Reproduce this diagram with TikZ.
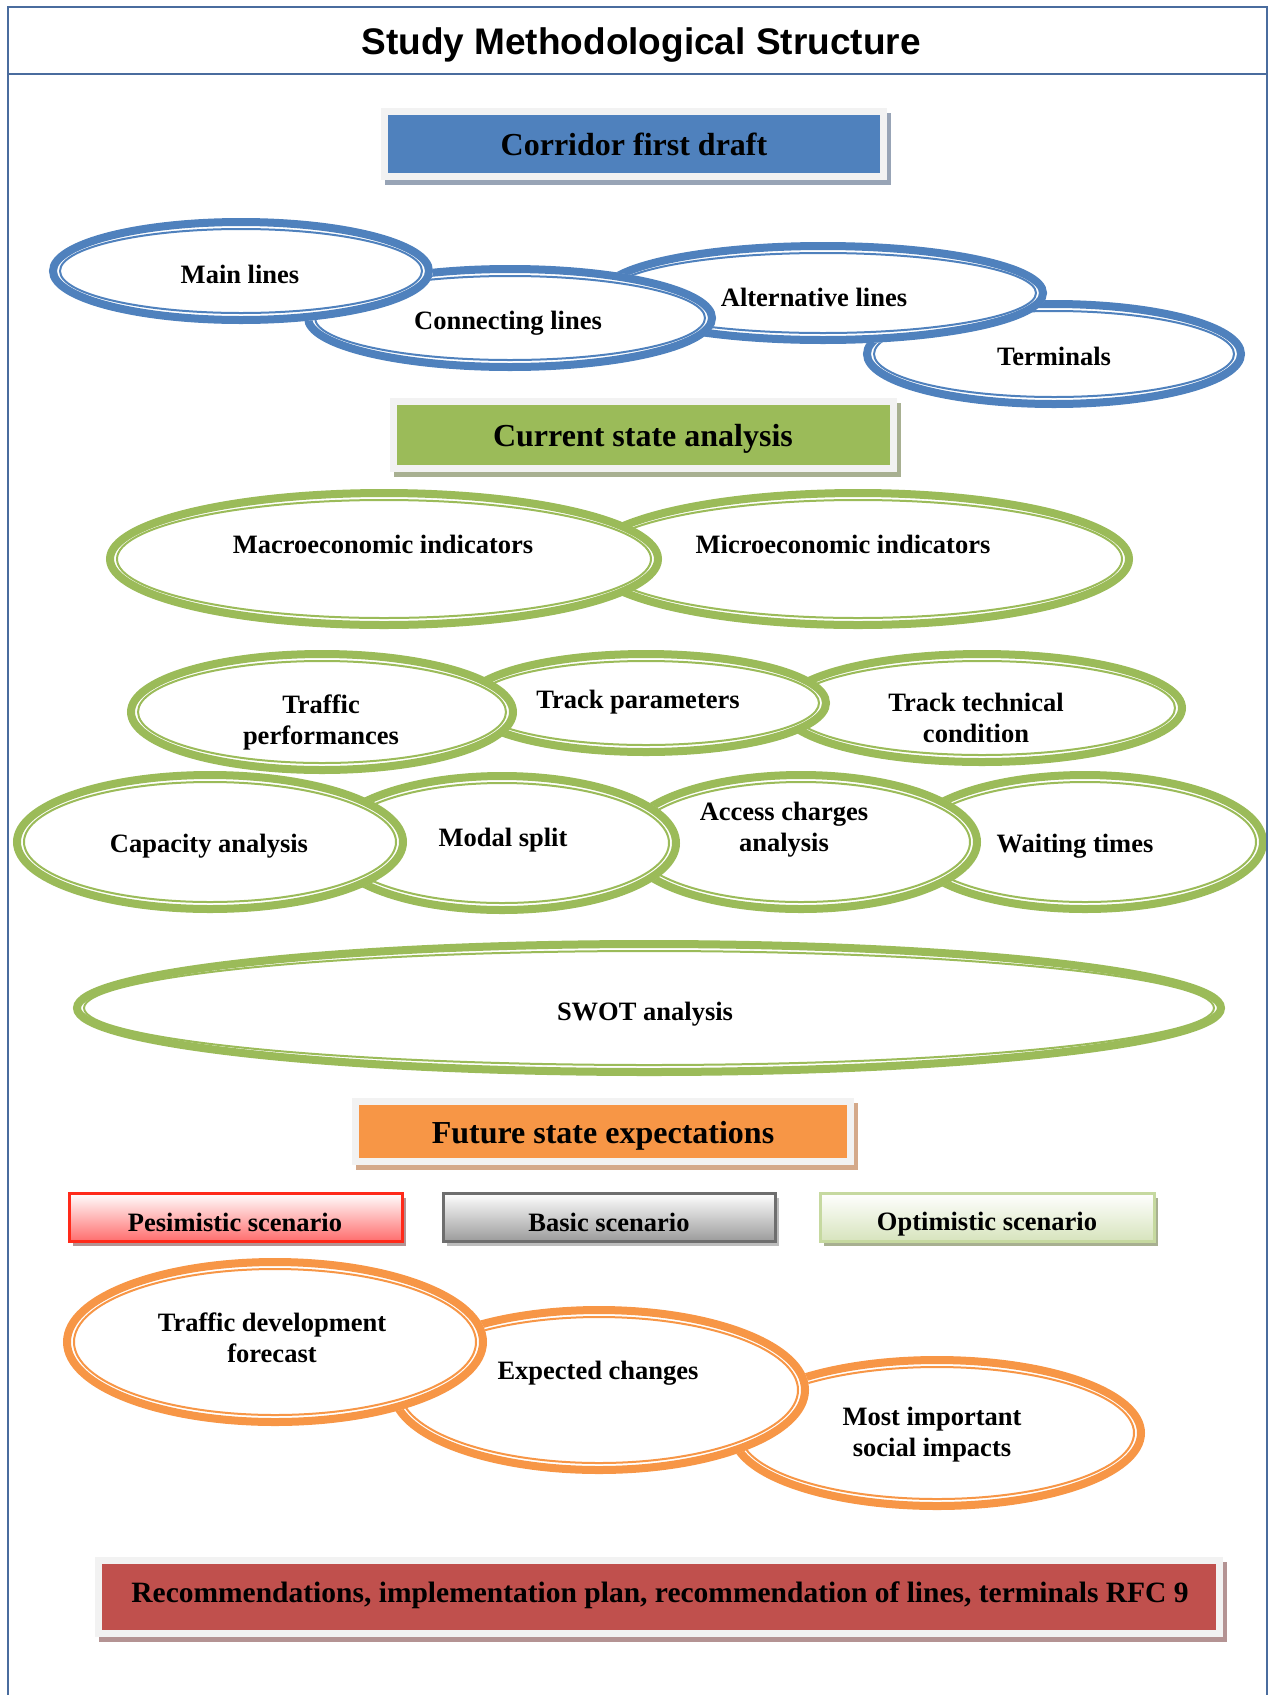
\documentclass[tikz,border=0pt]{standalone}
\usepackage{fontspec}
\setmainfont{Liberation Serif}
\newfontfamily\titlefont{Liberation Sans}

\definecolor{framecol}{HTML}{4A6C9E}
\definecolor{framegray}{HTML}{F2F2F2}
\definecolor{ringblue}{HTML}{4F81BD}
\definecolor{ringgreen}{HTML}{9BBB59}
\definecolor{ringorange}{HTML}{F79646}
\definecolor{boxred}{HTML}{C0504D}
\definecolor{shblue}{HTML}{98A4B6}
\definecolor{shgreen}{HTML}{A8B091}
\definecolor{shorange}{HTML}{D4A98A}
\definecolor{shred}{HTML}{B49393}
\definecolor{pesline}{HTML}{FF2A1A}
\definecolor{pesfill}{HTML}{FF6E6E}
\definecolor{basline}{HTML}{6E6E6E}
\definecolor{basfill}{HTML}{9C9C9C}
\definecolor{optline}{HTML}{C6D9A0}
\definecolor{optfill}{HTML}{D7E4BD}

\tikzset{
  frameline/.style={draw=framecol, line width=1.5pt},
  ovaltext/.style={font=\bfseries\fontsize{26.5}{31}\selectfont, align=center},
  headtext/.style={font=\bfseries\fontsize{32}{36}\selectfont},
  scenbox/.style={line width=3pt},
}

% ring: colour, centre x, centre y, x radius, y radius
\newcommand{\ringshape}[5]{%
  \fill[white] (#2,#3) ellipse [x radius=#4pt, y radius=#5pt];
  \draw[#1, line width=8pt] (#2,#3) ellipse [x radius=#4pt-4pt, y radius=#5pt-4pt];
  \draw[#1, line width=2pt] (#2,#3) ellipse [x radius=#4pt-11pt, y radius=#5pt-11pt];
}

% header box: x1, y1, x2, y2, colour, shadow
\newcommand{\headbox}[6]{%
  \fill[#6] (#1+4,#2+5) rectangle (#3+4,#4+5);
  \fill[framegray] (#1,#2) rectangle (#3,#4);
  \fill[#5] (#1+7,#2+7) rectangle (#3-7,#4-7);
}

\begin{document}
\begin{tikzpicture}[x=1pt, y=-1pt]
  \useasboundingbox (0,0) rectangle (1270,1695);

  \node (title) at (641,45) {\titlefont\bfseries\fontsize{37}{40}\selectfont Study Methodological Structure};

  % corridor first draft
  \headbox{381}{108}{887}{180}{ringblue}{shblue}
  \node[headtext] (draft) at (634,144) {Corridor first draft};

  \ringshape{ringblue}{1054}{354}{191}{54}
  \ringshape{ringblue}{823}{293}{224}{51}
  \ringshape{ringblue}{510}{318}{206}{53}
  \ringshape{ringblue}{241}{271}{192}{53}
  \node[ovaltext] (main) at (240,274) {Main lines};
  \node[ovaltext] (connect) at (508,323) {Connecting lines};
  \node[ovaltext] (altern) at (814,297) {Alternative lines};
  \node[ovaltext] (termin) at (1054,356) {Terminals};

  % current state
  \headbox{390}{398}{897}{472}{ringgreen}{shgreen}
  \node[headtext] (current) at (643,439) {Current state analysis};

  \ringshape{ringgreen}{858}{559}{275}{70}
  \ringshape{ringgreen}{384}{559}{278}{70}
  \node[ovaltext] (macro) at (383,544) {Macroeconomic indicators};
  \node[ovaltext] (micro) at (843,544) {Microeconomic indicators};

  \ringshape{ringgreen}{982}{708}{204}{58}
  \ringshape{ringgreen}{646}{703}{184}{53}
  \ringshape{ringgreen}{322}{712}{195}{62}
  \node[ovaltext] (traffic) at (321,722) {Traffic\\performances};
  \node[ovaltext] (params) at (638,702) {Track parameters};
  \node[ovaltext] (techcond) at (976,718) {Track technical\\condition};

  \ringshape{ringgreen}{1085}{842}{182}{71}
  \ringshape{ringgreen}{801}{842}{180}{71}
  \ringshape{ringgreen}{502}{843}{178}{71}
  \ringshape{ringgreen}{210}{842}{197}{71}
  \node[ovaltext] (capacity) at (209,846) {Capacity analysis};
  \node[ovaltext] (modal) at (503,840) {Modal split};
  \node[ovaltext] (access) at (784,830) {Access charges\\analysis};
  \node[ovaltext] (waiting) at (1075,846) {Waiting times};

  \ringshape{ringgreen}{649}{1008}{576}{68}
  \node[ovaltext] (swot) at (645,1014) {SWOT analysis};

  % future state
  \headbox{352}{1098}{854}{1165}{ringorange}{shorange}
  \node[headtext] (future) at (603,1136) {Future state expectations};

  \fill[shred] (73,1198) rectangle (406,1246);
  \fill[black!26] (447,1198) rectangle (779,1246);
  \fill[shgreen] (824,1198) rectangle (1158,1246);
  \draw[scenbox, draw=pesline, top color=white, bottom color=pesfill] (69,1193) rectangle (402,1241);
  \draw[scenbox, draw=basline, top color=white, bottom color=basfill] (443,1193) rectangle (775,1241);
  \draw[scenbox, draw=optline, top color=white, bottom color=optfill] (820,1193) rectangle (1154,1241);
  \node[ovaltext] (pesim) at (235,1222) {Pesimistic scenario};
  \node[ovaltext] (basic) at (609,1222) {Basic scenario};
  \node[ovaltext] (optim) at (987,1224) {Optimistic scenario};

  \ringshape{ringorange}{937}{1433}{208}{77}
  \ringshape{ringorange}{599}{1390}{210}{84}
  \ringshape{ringorange}{275}{1342}{212}{84}
  \node[ovaltext] (forecast) at (272,1338) {Traffic development\\forecast};
  \node[ovaltext] (changes) at (598,1373) {Expected changes};
  \node[ovaltext] (social) at (932,1435) {Most important\\social impacts};

  % recommendations
  \headbox{95}{1557}{1223}{1637}{boxred}{shred}
  \node[headtext, font=\bfseries\fontsize{29.5}{34}\selectfont] (recomm) at (660,1595) {Recommendations, implementation plan, recommendation of lines, terminals RFC 9};

  % outer frame
  \draw[frameline] (8,1695) -- (8,7) -- (1267,7) -- (1267,1695);
  \draw[frameline, line width=2.5pt] (8,74) -- (1267,74);
\end{tikzpicture}
\end{document}
